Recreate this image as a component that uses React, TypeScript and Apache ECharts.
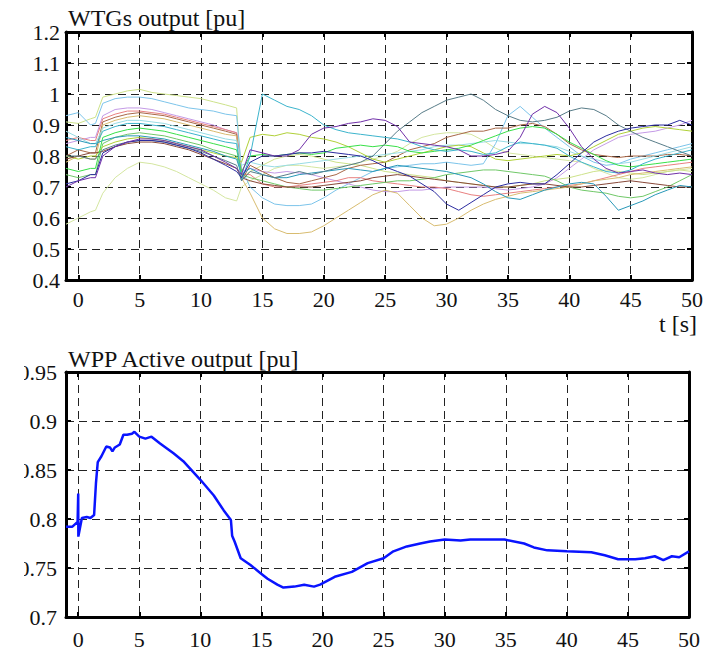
import React, { useEffect, useRef } from "react";
import * as echarts from "echarts";

// time axis for WTG traces [s]
const T = [-1, 0, 1, 1.4, 2, 3, 4, 5, 6, 7, 8, 9, 10, 11, 12, 12.9, 13.3, 14, 15, 16, 17, 18, 19, 20, 21, 22, 23, 24, 25, 26, 27, 28, 29, 30, 31, 32, 33, 34, 35, 36, 37, 38, 39, 40, 41, 42, 43, 44, 45, 46, 47, 48, 49, 50];

const xTicks = [0, 5, 10, 15, 20, 25, 30, 35, 40, 45, 50];

// WTG outputs [pu]
const wtgLightYellowTop = [0.91, 0.905, 0.92, 0.925, 0.99, 1.0, 1.01, 1.015, 1.005, 1.0, 0.995, 0.99, 0.985, 0.975, 0.965, 0.955, 0.73,
  0.75, 0.77, 0.79, 0.8, 0.805, 0.8, 0.79, 0.78, 0.775, 0.77, 0.76, 0.75, 0.745, 0.74, 0.735, 0.73, 0.72, 0.715, 0.71, 0.705, 0.7, 0.7, 0.705, 0.71, 0.72, 0.725, 0.73, 0.74, 0.75, 0.755, 0.75, 0.745, 0.74, 0.745, 0.75, 0.755, 0.75];
const wtgLightBlue = [0.93, 0.94, 0.9, 0.905, 0.97, 0.985, 0.99, 0.99, 0.985, 0.975, 0.965, 0.955, 0.95, 0.945, 0.935, 0.93, 0.76,
  0.7, 0.665, 0.645, 0.64, 0.64, 0.645, 0.665, 0.69, 0.71, 0.73, 0.75, 0.76, 0.765, 0.77, 0.775, 0.775, 0.78, 0.775, 0.77, 0.775, 0.84, 0.93, 0.96, 0.925, 0.89, 0.86, 0.83, 0.8, 0.78, 0.77, 0.775, 0.79, 0.8, 0.81, 0.82, 0.83, 0.84];
const wtgLavender = [0.84, 0.85, 0.86, 0.86, 0.93, 0.95, 0.955, 0.955, 0.95, 0.94, 0.93, 0.92, 0.91, 0.9, 0.885, 0.875, 0.75,
  0.76, 0.75, 0.745, 0.75, 0.745, 0.74, 0.73, 0.72, 0.71, 0.7, 0.69, 0.685, 0.685, 0.69, 0.69, 0.695, 0.7, 0.7, 0.7, 0.7, 0.695, 0.69, 0.695, 0.7, 0.71, 0.73, 0.76, 0.79, 0.82, 0.84, 0.86, 0.87, 0.875, 0.88, 0.89, 0.9, 0.915];
const wtgPink = [0.85, 0.86, 0.85, 0.85, 0.92, 0.935, 0.945, 0.945, 0.94, 0.935, 0.925, 0.915, 0.905, 0.895, 0.885, 0.875, 0.74,
  0.74, 0.71, 0.7, 0.7, 0.705, 0.71, 0.715, 0.72, 0.73, 0.73, 0.72, 0.715, 0.71, 0.705, 0.7, 0.7, 0.695, 0.685, 0.675, 0.67, 0.675, 0.68, 0.685, 0.69, 0.695, 0.7, 0.705, 0.71, 0.72, 0.73, 0.74, 0.75, 0.76, 0.765, 0.77, 0.775, 0.78];
const wtgBrown = [0.8, 0.82, 0.81, 0.81, 0.91, 0.925, 0.935, 0.94, 0.935, 0.93, 0.92, 0.91, 0.9, 0.89, 0.88, 0.87, 0.72,
  0.77, 0.75, 0.73, 0.715, 0.71, 0.72, 0.73, 0.74, 0.76, 0.77, 0.775, 0.78, 0.8, 0.82, 0.83, 0.84, 0.86, 0.87, 0.88, 0.88, 0.89, 0.89, 0.9, 0.905, 0.895, 0.87, 0.84, 0.82, 0.805, 0.8, 0.795, 0.8, 0.8, 0.8, 0.805, 0.805, 0.8];
const wtgTan = [0.78, 0.8, 0.79, 0.79, 0.9, 0.915, 0.925, 0.93, 0.925, 0.92, 0.91, 0.9, 0.89, 0.88, 0.87, 0.865, 0.73,
  0.68, 0.6, 0.565, 0.55, 0.55, 0.555, 0.575, 0.6, 0.625, 0.65, 0.675, 0.69, 0.68, 0.64, 0.6, 0.575, 0.58, 0.6, 0.625, 0.645, 0.66, 0.67, 0.68, 0.685, 0.69, 0.695, 0.7, 0.71, 0.72, 0.725, 0.73, 0.74, 0.745, 0.75, 0.755, 0.76, 0.765];
const wtgLightCyan = [0.88, 0.86, 0.84, 0.84, 0.89, 0.905, 0.915, 0.915, 0.91, 0.905, 0.895, 0.885, 0.875, 0.865, 0.855, 0.85, 0.77,
  0.78, 0.77, 0.765, 0.77, 0.775, 0.78, 0.785, 0.79, 0.795, 0.8, 0.8, 0.805, 0.81, 0.815, 0.82, 0.83, 0.835, 0.835, 0.84, 0.845, 0.85, 0.845, 0.84, 0.84, 0.835, 0.83, 0.815, 0.8, 0.79, 0.78, 0.775, 0.78, 0.79, 0.8, 0.81, 0.82, 0.83];
const wtgCyan = [0.83, 0.82, 0.83, 0.83, 0.88, 0.895, 0.905, 0.905, 0.9, 0.895, 0.885, 0.875, 0.865, 0.855, 0.845, 0.84, 0.72,
  0.8, 1.0, 0.98, 0.96, 0.95, 0.93, 0.9, 0.885, 0.875, 0.87, 0.865, 0.86, 0.855, 0.845, 0.83, 0.82, 0.815, 0.82, 0.815, 0.805, 0.81, 0.83, 0.845, 0.84, 0.835, 0.825, 0.8, 0.78, 0.765, 0.75, 0.745, 0.755, 0.775, 0.79, 0.8, 0.81, 0.82];
const wtgGreen = [0.76, 0.75, 0.76, 0.76, 0.86, 0.875, 0.885, 0.89, 0.885, 0.88, 0.87, 0.86, 0.85, 0.84, 0.83, 0.82, 0.75,
  0.8, 0.805, 0.8, 0.805, 0.81, 0.805, 0.81, 0.825, 0.83, 0.835, 0.83, 0.835, 0.83, 0.815, 0.81, 0.815, 0.82, 0.825, 0.835, 0.85, 0.865, 0.88, 0.89, 0.895, 0.89, 0.87, 0.845, 0.825, 0.805, 0.785, 0.77, 0.765, 0.77, 0.775, 0.78, 0.785, 0.79];
const wtgMidGreen = [0.74, 0.73, 0.74, 0.74, 0.84, 0.86, 0.87, 0.875, 0.87, 0.865, 0.855, 0.845, 0.835, 0.82, 0.81, 0.8, 0.74,
  0.73, 0.72, 0.71, 0.7, 0.695, 0.69, 0.69, 0.695, 0.7, 0.705, 0.71, 0.715, 0.72, 0.72, 0.725, 0.73, 0.74, 0.745, 0.75, 0.755, 0.755, 0.75, 0.745, 0.74, 0.735, 0.72, 0.7, 0.69, 0.685, 0.68, 0.67, 0.665, 0.67, 0.685, 0.7, 0.72, 0.74];
const wtgYellowGreen = [0.8, 0.79, 0.8, 0.8, 0.83, 0.845, 0.855, 0.86, 0.855, 0.85, 0.84, 0.83, 0.82, 0.81, 0.8, 0.795, 0.78,
  0.86, 0.87, 0.865, 0.875, 0.87, 0.86, 0.855, 0.845, 0.83, 0.81, 0.79, 0.78, 0.79, 0.8, 0.81, 0.82, 0.83, 0.835, 0.83, 0.81, 0.79, 0.785, 0.79, 0.795, 0.8, 0.805, 0.8, 0.81, 0.83, 0.85, 0.87, 0.88, 0.89, 0.895, 0.89, 0.885, 0.88];
const wtgPurple = [0.7, 0.72, 0.73, 0.73, 0.8, 0.83, 0.845, 0.855, 0.855, 0.85, 0.84, 0.83, 0.82, 0.8, 0.78, 0.76, 0.74,
  0.82, 0.81, 0.8, 0.8, 0.82, 0.87, 0.89, 0.895, 0.905, 0.91, 0.92, 0.915, 0.895, 0.845, 0.84, 0.835, 0.83, 0.82, 0.8, 0.8, 0.805, 0.815, 0.86, 0.935, 0.96, 0.94, 0.89, 0.83, 0.79, 0.76, 0.745, 0.75, 0.755, 0.745, 0.74, 0.745, 0.74];
const wtgNavy = [0.71, 0.72, 0.74, 0.74, 0.81, 0.83, 0.845, 0.85, 0.85, 0.845, 0.835, 0.825, 0.81, 0.79, 0.77, 0.75, 0.73,
  0.78, 0.8, 0.8, 0.805, 0.81, 0.81, 0.815, 0.81, 0.805, 0.8, 0.785, 0.765, 0.75, 0.735, 0.71, 0.685, 0.645, 0.625, 0.65, 0.675, 0.7, 0.71, 0.715, 0.71, 0.71, 0.74, 0.775, 0.81, 0.845, 0.865, 0.88, 0.89, 0.895, 0.9, 0.9, 0.915, 0.9];
const wtgGrayTeal = [0.8, 0.8, 0.79, 0.79, 0.82, 0.835, 0.845, 0.85, 0.85, 0.845, 0.835, 0.825, 0.815, 0.8, 0.785, 0.77, 0.72,
  0.75, 0.74, 0.73, 0.74, 0.75, 0.74, 0.75, 0.76, 0.77, 0.78, 0.8, 0.84, 0.88, 0.91, 0.94, 0.96, 0.98, 0.99, 1.0, 0.98, 0.95, 0.93, 0.915, 0.91, 0.915, 0.925, 0.945, 0.955, 0.95, 0.93, 0.9, 0.88, 0.86, 0.845, 0.83, 0.815, 0.8];
const wtgMaroon = [0.79, 0.8, 0.81, 0.81, 0.815, 0.83, 0.84, 0.845, 0.845, 0.84, 0.83, 0.82, 0.805, 0.79, 0.775, 0.76, 0.73,
  0.72, 0.71, 0.705, 0.7, 0.7, 0.7, 0.705, 0.71, 0.715, 0.72, 0.73, 0.735, 0.74, 0.735, 0.73, 0.725, 0.72, 0.715, 0.71, 0.705, 0.7, 0.7, 0.705, 0.71, 0.71, 0.705, 0.7, 0.7, 0.705, 0.71, 0.715, 0.72, 0.715, 0.71, 0.705, 0.7, 0.7];
const wtgTeal = [0.86, 0.85, 0.84, 0.84, 0.85, 0.86, 0.865, 0.865, 0.86, 0.855, 0.845, 0.835, 0.825, 0.815, 0.8, 0.79, 0.74,
  0.76, 0.74, 0.73, 0.73, 0.74, 0.745, 0.75, 0.755, 0.76, 0.755, 0.75, 0.76, 0.77, 0.765, 0.76, 0.755, 0.75, 0.74, 0.73, 0.71, 0.685, 0.665, 0.66, 0.675, 0.69, 0.7, 0.71, 0.715, 0.71, 0.67, 0.625, 0.64, 0.655, 0.675, 0.69, 0.705, 0.7];
const wtgLightYellowLow = [0.58, 0.6, 0.62, 0.625, 0.68, 0.73, 0.76, 0.78, 0.775, 0.765, 0.75, 0.73, 0.71, 0.69, 0.665, 0.655, 0.7,
  0.72, 0.74, 0.76, 0.77, 0.77, 0.765, 0.76, 0.765, 0.77, 0.78, 0.79, 0.8, 0.815, 0.84, 0.86, 0.87, 0.875, 0.875, 0.87, 0.85, 0.825, 0.81, 0.805, 0.8, 0.795, 0.79, 0.785, 0.78, 0.76, 0.745, 0.73, 0.725, 0.73, 0.74, 0.75, 0.755, 0.76];

const wtgValues = [
  wtgLightYellowLow, wtgLightYellowTop, wtgLightBlue, wtgLavender, wtgPink, wtgBrown, wtgTan, wtgLightCyan,
  wtgMidGreen, wtgYellowGreen, wtgMaroon, wtgTeal, wtgGreen, wtgCyan, wtgGrayTeal, wtgNavy, wtgPurple,
];
const wtgColors = [
  "#d4e6a0", "#cde28a", "#7cc4ea", "#c49ae6", "#e88080", "#a86848", "#d8bc70", "#98dce4",
  "#70c868", "#b0d038", "#884838", "#2898b8", "#38e048", "#3cb4cc", "#587c88", "#2c2ca0", "#7030a8",
];

// WPP active output [pu]
const wppT = [-1, -0.5, -0.05, 0, 0.01, 0.3, 0.7, 1.0, 1.3, 1.45, 1.6, 1.9, 2.3, 2.6, 2.8, 3.0, 3.4, 3.7, 4.0, 4.4, 4.6, 5.0, 5.5, 6.0, 6.7, 7.8, 8.6, 10, 11.1, 11.9, 12.5, 12.6, 12.8, 13.3, 14.1, 14.9, 15.5, 16.3, 16.8, 17.7, 18.5, 19.3, 19.8, 21, 22.4, 23.7, 25, 25.8, 26.9, 28, 28.8, 30, 31.3, 32.1, 33.8, 34.9, 36.5, 37.3, 38.4, 40, 42, 43.1, 44.2, 45.6, 46.4, 47.2, 47.9, 48.6, 49.2, 50];
const wppV = [0.792, 0.792, 0.797, 0.826, 0.782, 0.801, 0.802, 0.801, 0.804, 0.836, 0.858, 0.864, 0.874, 0.873, 0.869, 0.873, 0.876, 0.886, 0.886, 0.887, 0.889, 0.884, 0.882, 0.884, 0.877, 0.867, 0.859, 0.84, 0.824, 0.809, 0.799, 0.783, 0.777, 0.76, 0.753, 0.745, 0.739, 0.733, 0.73, 0.731, 0.733, 0.731, 0.733, 0.741, 0.746, 0.755, 0.76, 0.767, 0.772, 0.775, 0.777, 0.779, 0.778, 0.779, 0.779, 0.779, 0.775, 0.771, 0.768, 0.767, 0.766, 0.763, 0.759, 0.759, 0.76, 0.762, 0.758, 0.762, 0.761, 0.767];

const FONT = "Liberation Serif";
const LABEL_SIZE = 22;

function xAxisPair(gridIndex: number, labelMargin: number) {
  const common = {
    type: "value" as const,
    gridIndex,
    min: -1,
    max: 50,
    axisLine: { show: true, onZero: false, lineStyle: { color: "#000", width: 3 } },
    axisTick: { show: true, inside: true, length: 5, customValues: xTicks, lineStyle: { color: "#000", width: 2 } },
  };
  return [
    {
      ...common,
      position: "bottom" as const,
      axisLabel: { show: true, customValues: xTicks, margin: labelMargin, color: "#111", fontFamily: FONT, fontSize: LABEL_SIZE },
      splitLine: { show: true, lineStyle: { color: "#222", width: 1, type: [8, 5] } },
    },
    {
      ...common,
      position: "top" as const,
      axisLabel: { show: false },
      splitLine: { show: false },
    },
  ];
}

function yAxisPair(gridIndex: number, min: number, max: number, interval: number, labelMargin: number) {
  const common = {
    type: "value" as const,
    gridIndex,
    min,
    max,
    interval,
    axisLine: { show: true, onZero: false, lineStyle: { color: "#000", width: 3 } },
    axisTick: { show: true, inside: true, length: 5, lineStyle: { color: "#000", width: 2 } },
  };
  return [
    {
      ...common,
      position: "left" as const,
      axisLabel: { show: true, margin: labelMargin, color: "#111", fontFamily: FONT, fontSize: LABEL_SIZE },
      splitLine: { show: true, lineStyle: { color: "#222", width: 1, type: [8, 5] } },
    },
    {
      ...common,
      position: "right" as const,
      axisLabel: { show: false },
      splitLine: { show: false },
    },
  ];
}

export default function App() {
  const ref = useRef<HTMLDivElement>(null);

  useEffect(() => {
    if (!ref.current) return;
    const chart = echarts.init(ref.current, undefined, { renderer: "svg" });

    const wtgSeries = wtgValues.map((vals, k) => ({
      type: "line" as const,
      xAxisIndex: 0,
      yAxisIndex: 0,
      data: T.map((t, i) => [t, vals[i]]),
      showSymbol: false,
      symbol: "none",
      lineStyle: { color: wtgColors[k], width: 1 },
      itemStyle: { color: wtgColors[k] },
      z: 3,
    }));

    const wppSeries = {
      type: "line" as const,
      xAxisIndex: 2,
      yAxisIndex: 2,
      data: wppT.map((t, i) => [t, wppV[i]]),
      showSymbol: false,
      symbol: "none",
      lineStyle: { color: "#0a14ff", width: 2.5 },
      itemStyle: { color: "#0a14ff" },
      z: 3,
    };

    const titleStyle = { fill: "#111", fontFamily: FONT, fontSize: 24, textVerticalAlign: "middle" };

    chart.setOption({
      animation: false,
      backgroundColor: "#fff",
      textStyle: { fontFamily: FONT },
      grid: [
        { left: 66, top: 32, width: 626, height: 248, outerBoundsMode: "none", containLabel: false },
        { left: 66, top: 372, width: 623, height: 245, outerBoundsMode: "none", containLabel: false },
      ],
      xAxis: [...xAxisPair(0, 8), ...xAxisPair(1, 11)],
      yAxis: [...yAxisPair(0, 0.4, 1.2, 0.1, 6), ...yAxisPair(1, 0.7, 0.95, 0.05, 9)],
      series: [...wtgSeries, wppSeries],
      graphic: [
        { type: "text", x: 68, y: 18, z: 50, style: { ...titleStyle, text: "WTGs output [pu]", textAlign: "left" } },
        { type: "text", x: 697, y: 324, z: 50, style: { ...titleStyle, text: "t [s]", textAlign: "right" } },
        { type: "text", x: 68, y: 359, z: 50, style: { ...titleStyle, text: "WPP Active output [pu]", textAlign: "left" } },
        { type: "rect", z: 100, shape: { x: 0, y: 362, width: 24, height: 270 }, style: { fill: "#fff" } },
      ],
    });

    return () => chart.dispose();
  }, []);

  return <div ref={ref} style={{ position: "absolute", left: 0, top: 0, width: 704, height: 654 }} />;
}
